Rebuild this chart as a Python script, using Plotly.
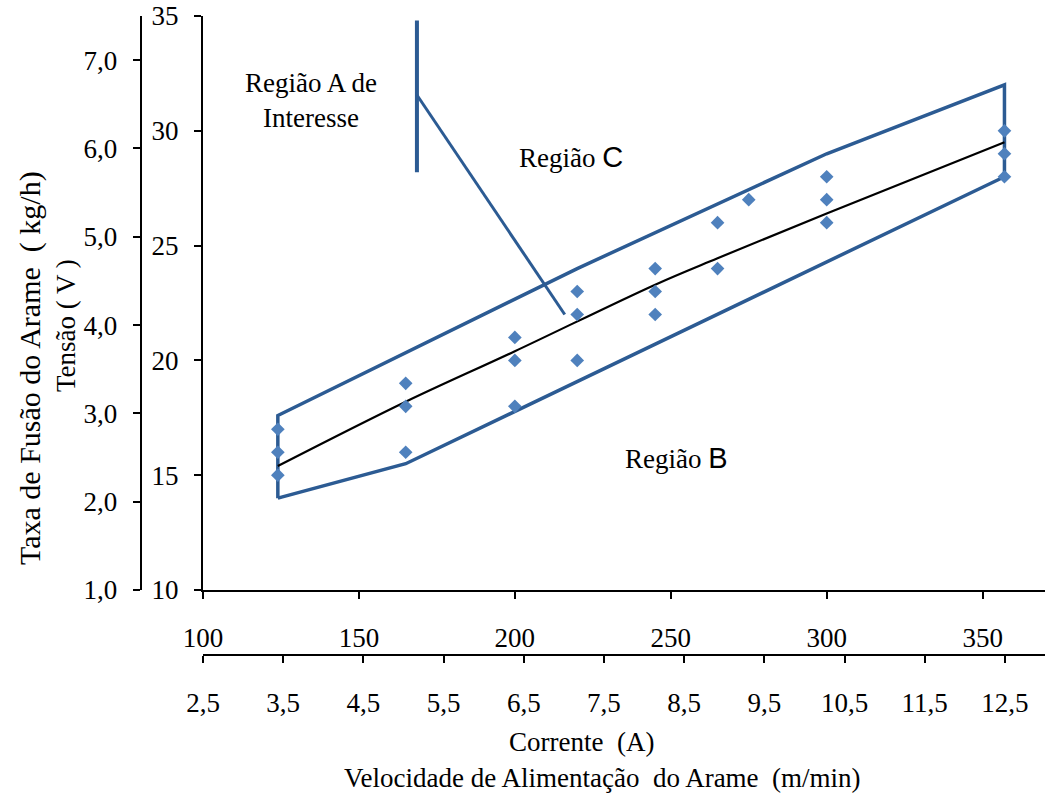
import plotly.graph_objects as go

# ---- data ----
corrente_pts = [124, 124, 124, 165, 165, 165, 200, 200, 200, 220, 220, 220,
                245, 245, 245, 265, 265, 275, 300, 300, 300, 357, 357, 357]
tensao_pts = [17, 16, 15, 19, 18, 16, 21, 20, 18, 23, 22, 20,
              24, 23, 22, 26, 24, 27, 28, 27, 26, 30, 29, 28]

# envelope (closed outline: lower-left -> upper -> right -> lower -> back)
env_x = [124, 124, 220, 300, 357, 357, 165, 124]
env_y = [14.0, 17.6, 24.0, 29.0, 32.0, 28.0, 15.5, 14.0]

# trend curve
trend_x = [124, 165, 200, 245, 265, 300, 357]
trend_y = [15.4, 18.2, 20.4, 23.3, 24.45, 26.4, 29.5]

# axes ticks
x1_ticks = [100, 150, 200, 250, 300, 350]
x2_ticks = [2.5, 3.5, 4.5, 5.5, 6.5, 7.5, 8.5, 9.5, 10.5, 11.5, 12.5]
x2_text = ["2,5", "3,5", "4,5", "5,5", "6,5", "7,5", "8,5", "9,5", "10,5", "11,5", "12,5"]
y1_ticks = [10, 15, 20, 25, 30, 35]
y2_ticks = [1, 2, 3, 4, 5, 6, 7]
y2_text = ["1,0", "2,0", "3,0", "4,0", "5,0", "6,0", "7,0"]

# callout lines (Região A de Interesse)
callout_v = dict(x=168.6, y0=28.2, y1=34.8)
callout_d = dict(x0=168.6, y0=31.56, x1=216, y1=22.0)

FONT = "Liberation Serif, Times New Roman, serif"
ENV_COLOR = "#2C5B93"
MARK_COLOR = "#4F81BD"
FS = 27

fig = go.Figure()
fig.add_trace(go.Scatter(x=env_x, y=env_y, mode="lines",
                         line=dict(color=ENV_COLOR, width=3.5), hoverinfo="skip", showlegend=False))
fig.add_trace(go.Scatter(x=trend_x, y=trend_y, mode="lines", line_shape="spline",
                         line=dict(color="black", width=2.2), showlegend=False))
fig.add_trace(go.Scatter(x=corrente_pts, y=tensao_pts, mode="markers",
                         marker=dict(symbol="diamond", size=10.5, color=MARK_COLOR), showlegend=False))
fig.add_trace(go.Scatter(x=[None], y=[None], xaxis="x", yaxis="y2", showlegend=False))
fig.add_trace(go.Scatter(x=[None], y=[None], xaxis="x2", yaxis="y3", showlegend=False))

L, T, B = 130, 16, 138
W, H = 1045, 798
PW, PH = W - L, H - T - B
plot_bottom = H - B


def xp(px):
    return (px - L) / PW


def yp(py):
    return (plot_bottom - py) / PH


axis_common = dict(showline=True, linecolor="black", linewidth=2, ticks="outside",
                   tickcolor="black", tickwidth=1.5, ticklen=7, showgrid=False, zeroline=False,
                   tickfont=dict(family=FONT, size=FS, color="black"))

x_dom = [xp(203), 1]

fig.update_layout(
    width=W, height=H,
    margin=dict(l=L, r=0, t=T, b=B),
    plot_bgcolor="white", paper_bgcolor="white",
    font=dict(family=FONT, size=FS, color="black"),
    xaxis=dict(domain=x_dom, range=[100, 370], tickvals=x1_ticks, anchor="y",
               ticklabelstandoff=16, **axis_common),
    xaxis2=dict(domain=x_dom, anchor="y3", side="bottom",
                range=[2.5, 13], tickvals=x2_ticks, ticktext=x2_text,
                ticklabelstandoff=17, **axis_common),
    yaxis=dict(domain=[yp(590), 1], range=[10, 35], tickvals=y1_ticks, anchor="x",
               ticklabelstandoff=10, **axis_common),
    yaxis2=dict(overlaying="y", anchor="free", position=xp(140.7), side="left",
                range=[1, 7.5], tickvals=y2_ticks, ticktext=y2_text,
                ticklabelstandoff=10, **axis_common),
    yaxis3=dict(domain=[yp(654), yp(654) + 0.002], anchor="x2", range=[0, 1],
                visible=False, showgrid=False, zeroline=False),
    shapes=[
        dict(type="line", xref="x", yref="y", x0=callout_v["x"], x1=callout_v["x"],
             y0=callout_v["y0"], y1=callout_v["y1"], line=dict(color=ENV_COLOR, width=4)),
        dict(type="line", xref="x", yref="y", x0=callout_d["x0"], y0=callout_d["y0"],
             x1=callout_d["x1"], y1=callout_d["y1"], line=dict(color=ENV_COLOR, width=3)),
    ],
    annotations=[
        dict(text="Região A de<br>Interesse", x=134.5, y=31.3, xref="x", yref="y",
             xanchor="center", yanchor="middle", showarrow=False, font=dict(size=FS)),
        dict(text="Região <span style='font-family:Liberation Sans;font-size:29px'>C</span>",
             x=217.9, y=28.86, xref="x", yref="y", xanchor="center", yanchor="middle",
             showarrow=False, font=dict(size=FS)),
        dict(text="Região <span style='font-family:Liberation Sans;font-size:29px'>B</span>",
             x=251.9, y=15.75, xref="x", yref="y", xanchor="center", yanchor="middle",
             showarrow=False, font=dict(size=FS)),
        dict(text="Corrente  (A)", x=xp(581), y=yp(742), xref="paper", yref="paper",
             xanchor="center", yanchor="middle", showarrow=False, font=dict(size=FS)),
        dict(text="Velocidade de Alimentação  do Arame  (m/min)", x=xp(602), y=yp(778),
             xref="paper", yref="paper", xanchor="center", yanchor="middle",
             showarrow=False, font=dict(size=FS)),
        dict(text="Taxa de Fusão do Arame  ( kg/h)", x=xp(30), y=yp(368), xref="paper",
             yref="paper", xanchor="center", yanchor="middle", showarrow=False,
             textangle=-90, font=dict(size=30)),
        dict(text="Tensão ( V )", x=xp(66), y=yp(326), xref="paper", yref="paper",
             xanchor="center", yanchor="middle", showarrow=False, textangle=-90,
             font=dict(size=FS)),
    ],
)

fig.write_html("out.html")
